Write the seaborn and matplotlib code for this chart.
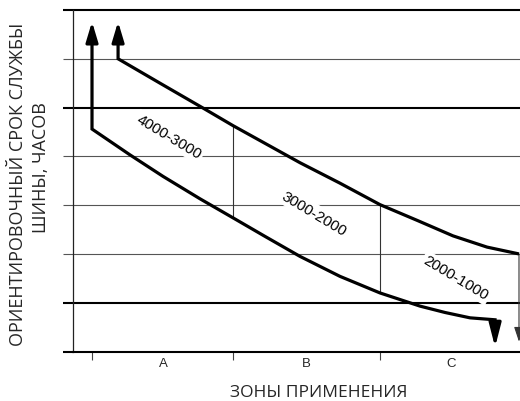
import matplotlib
matplotlib.use("Agg")
import matplotlib.pyplot as plt
import numpy as np
import pandas as pd
import seaborn as sns

# ---------------- data ----------------
zones = ["A", "B", "C"]
zone_edges = [0.0, 0.979, 2.0]
zone_centers = [0.493, 1.486, 2.493]
levels = [0, 1, 2, 3, 4, 5, 6, 7]
major_levels = [0, 1, 5, 7]

# upper boundary (start of curve, then descending)
upper_x = [0.181, 0.472, 0.771, 0.979, 1.236, 1.444, 1.722, 2.0, 2.264, 2.507, 2.743, 2.965]
upper_y = [6.00, 5.50, 4.99, 4.63, 4.21, 3.87, 3.45, 3.01, 2.68, 2.37, 2.14, 2.00]
# lower boundary
lower_x = [0.0, 0.264, 0.493, 0.75, 0.979, 1.201, 1.444, 1.722, 2.0, 2.278, 2.451, 2.625, 2.799]
lower_y = [4.56, 4.03, 3.59, 3.13, 2.74, 2.36, 1.95, 1.54, 1.20, 0.93, 0.80, 0.69, 0.65]

arrow_up_tip = 6.76
lower_down_tip = 0.09
right_down_tip = 0.20

range_labels = ["4000-3000", "3000-2000", "2000-1000"]
range_label_x = [0.535, 1.542, 2.528]
range_label_y = [4.40, 2.84, 1.51]

ylabel_lines = ["ОРИЕНТИРОВОЧНЫЙ СРОК СЛУЖБЫ", "ШИНЫ, ЧАСОВ"]
xlabel_text = "ЗОНЫ ПРИМЕНЕНИЯ"

# ---------------- style ----------------
sns.set_theme(style="white", rc={"lines.solid_joinstyle": "miter",
                                 "lines.solid_capstyle": "butt"})
plt.rcParams["font.family"] = ["Liberation Sans", "DejaVu Sans"]

fig = plt.figure(figsize=(5.2, 4.02), dpi=100)
ax = fig.add_axes([73 / 520, 1 - 352.5 / 402, 1 - 73 / 520, (352.5 - 11) / 402])
ax.set_xlim(-0.132, 2.972)
ax.set_ylim(0, 7)

# horizontal level lines (extend slightly left of the axis like ticks)
trans = ax.get_yaxis_transform()
for lv in levels:
    if lv == 0:
        continue
    major = lv in major_levels
    ax.hlines(lv, -0.022, 1.0, transform=trans, clip_on=False,
              color="black" if major else "#555555",
              lw=1.5 if major else 0.8, zorder=1)
ax.hlines(0, -0.022, 0, transform=trans, clip_on=False, color="black", lw=1.5)

# curves
line_lw = 2.3
head = dict(arrowstyle="-|>,head_length=1.2,head_width=0.36", color="black",
            lw=line_lw, shrinkA=0, shrinkB=0, mutation_scale=10)

up_df = pd.DataFrame({"x": [upper_x[0]] + upper_x, "y": [arrow_up_tip - 0.2] + upper_y})
lo_df = pd.DataFrame({"x": [lower_x[0]] + lower_x + [lower_x[-1]],
                      "y": [arrow_up_tip - 0.2] + lower_y + [lower_down_tip + 0.25]})
sns.lineplot(data=up_df, x="x", y="y", sort=False, estimator=None, color="black",
             lw=line_lw, ax=ax, zorder=4)
sns.lineplot(data=lo_df, x="x", y="y", sort=False, estimator=None, color="black",
             lw=line_lw, ax=ax, zorder=4)

ax.annotate("", xy=(upper_x[0], arrow_up_tip), xytext=(upper_x[0], arrow_up_tip - 0.3),
            arrowprops=head, zorder=5)
ax.annotate("", xy=(lower_x[0], arrow_up_tip), xytext=(lower_x[0], arrow_up_tip - 0.3),
            arrowprops=head, zorder=5)
ax.annotate("", xy=(lower_x[-1], lower_down_tip), xytext=(lower_x[-1], lower_down_tip + 0.35),
            arrowprops=dict(head, arrowstyle="-|>,head_length=1.4,head_width=0.36"), zorder=5)

# thin dividers between the curves
ax.vlines(zone_edges[1], lower_y[4], upper_y[3], color="#333333", lw=0.8, zorder=3)
ax.vlines(zone_edges[2], lower_y[8], upper_y[7], color="#333333", lw=0.8, zorder=3)
ax.annotate("", xy=(upper_x[-1], right_down_tip), xytext=(upper_x[-1], upper_y[-1]),
            arrowprops=dict(arrowstyle="-|>,head_length=0.9,head_width=0.3", color="#333333",
                            lw=0.8, shrinkA=0, shrinkB=0, mutation_scale=10),
            annotation_clip=False, zorder=3)

# range labels
for t, x, y in zip(range_labels, range_label_x, range_label_y):
    ax.text(x, y, t, rotation=-31, rotation_mode="anchor", ha="center", va="center",
            fontsize=11, color="black", zorder=6,
            bbox=dict(boxstyle="square,pad=0.15", fc="white", ec="none"))

# axes styling
for s in ["top", "right"]:
    ax.spines[s].set_visible(False)
ax.spines["left"].set_color("#222222")
ax.spines["left"].set_linewidth(0.9)
ax.spines["bottom"].set_color("black")
ax.spines["bottom"].set_linewidth(1.5)
ax.set_yticks([])
ax.set_xticks(zone_edges)
ax.set_xticklabels([])
ax.set_xticks(zone_centers, minor=True)
ax.set_xticklabels(zones, minor=True, fontsize=9.5)
ax.tick_params(axis="x", which="major", direction="out", length=6, width=0.8,
               color="#444444", bottom=True)
ax.tick_params(axis="x", which="minor", length=0, pad=4, bottom=True)
ax.set_xlabel("")
ax.set_ylabel("")

lab_font = dict(fontsize=13, family=["Open Sans", "DejaVu Sans"])
fig.text(319 / 520, 1 - 393 / 402, xlabel_text, ha="center", va="center",
         fontsize=12.5, family=["Open Sans", "DejaVu Sans"])
fig.text(18 / 520, 1 - 184 / 402, ylabel_lines[0], ha="center", va="center", rotation=90,
         **lab_font)
fig.text(41 / 520, 1 - 168 / 402, ylabel_lines[1], ha="center", va="center", rotation=90,
         **lab_font)

fig.savefig("out.png", dpi=100)
